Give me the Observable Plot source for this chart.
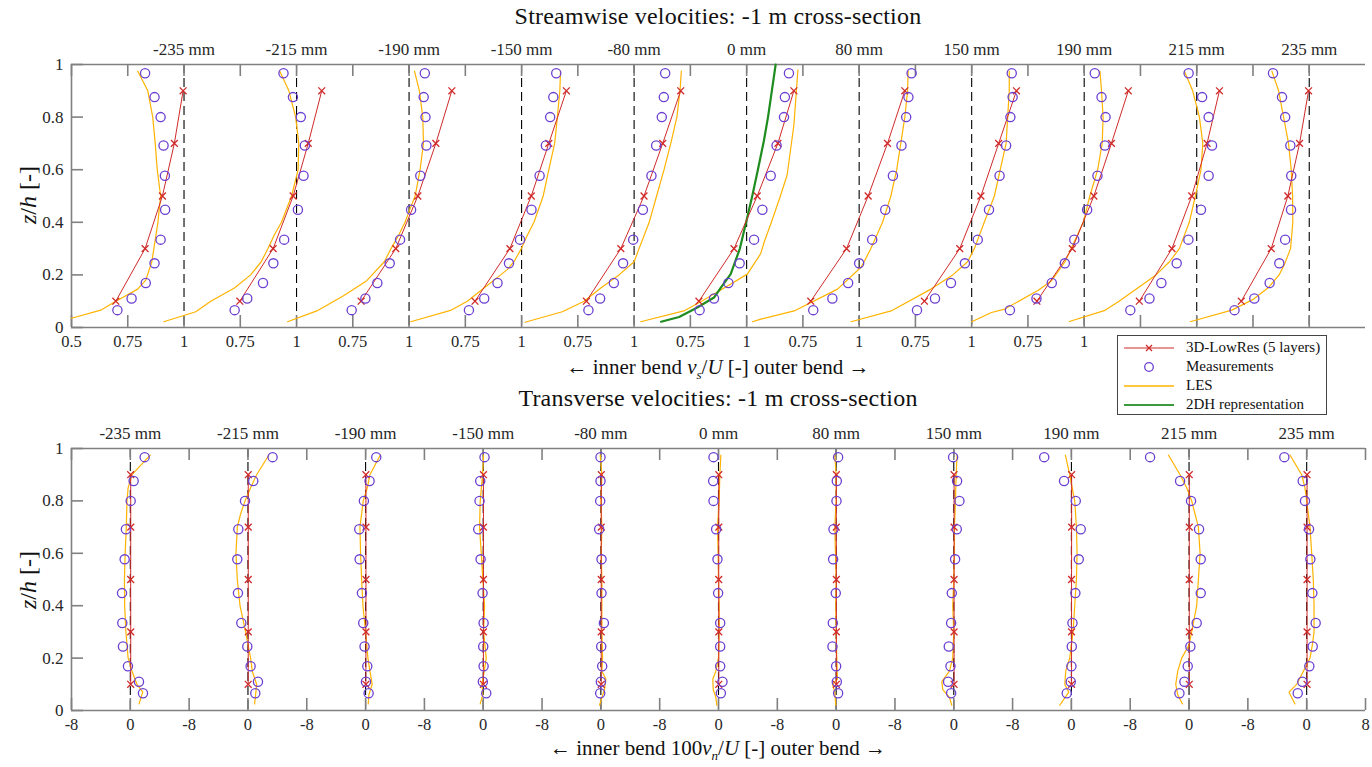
<!DOCTYPE html>
<html><head><meta charset="utf-8">
<script src="https://cdn.jsdelivr.net/npm/d3@7"></script>
<script src="https://cdn.jsdelivr.net/npm/@observablehq/plot@0.6"></script>
<style>
body{margin:0;background:#fff;}
#wrap{position:relative;width:1372px;height:767px;overflow:hidden;font-family:"Liberation Serif",serif;color:#111;}
.ttl{position:absolute;left:0;width:1436px;text-align:center;font-size:24px;letter-spacing:0.2px;white-space:nowrap;}
.xl{position:absolute;left:0;width:1436px;text-align:center;font-size:21px;white-space:nowrap;}
.ylab{position:absolute;font-size:24px;white-space:nowrap;transform:translate(-50%,-50%) rotate(-90deg);}
#legend{position:absolute;left:1117px;top:335px;width:208px;height:78px;background:#fff;border:1px solid #444;font-size:15px;}
#legend .row{position:absolute;left:0;height:19px;line-height:19px;}
#legend svg{position:absolute;left:4px;top:0;}
#legend span{position:absolute;left:68px;white-space:nowrap;}
svg.plot{position:absolute;left:0;}
</style></head>
<body><div id="wrap"></div>
<script>
// ---------- categories / labels ----------
const positions = ["-235 mm","-215 mm","-190 mm","-150 mm","-80 mm","0 mm","80 mm","150 mm","190 mm","215 mm","235 mm"];
// the last four streamwise tick labels are hidden behind the legend in the reference
const topTickLabels = ["0.5","0.75","1","0.75","1","0.75","1","0.75","1","0.75","1","0.75","1","0.75","1","0.75","1","0.75","1","","","",""];
const botTickLabels = ["-8","0","-8","0","-8","0","-8","0","-8","0","-8","0","-8","0","-8","0","-8","0","-8","0","-8","0","8"];
const yTickLabels = ["0","0.2","0.4","0.6","0.8","1"];
const yTicks = [0,0.2,0.4,0.6,0.8,1];

// ---------- vertical levels ----------
const zMeas = [0.066,0.110,0.169,0.244,0.334,0.448,0.577,0.692,0.800,0.876,0.967];
const z3D = [0.1,0.3,0.5,0.7,0.9];

// ---------- streamwise velocities v_s/U (one row per cross-section position) ----------
const measStream = [
  [0.704,0.767,0.830,0.869,0.896,0.916,0.915,0.909,0.896,0.869,0.827],
  [0.725,0.781,0.851,0.897,0.945,1.006,1.031,1.037,1.019,0.984,0.942],
  [0.745,0.806,0.859,0.914,0.960,1.009,1.050,1.077,1.073,1.065,1.070],
  [0.766,0.834,0.893,0.944,0.993,1.044,1.080,1.108,1.127,1.141,1.154],
  [0.797,0.849,0.910,0.951,0.996,1.039,1.077,1.098,1.123,1.132,1.138],
  [0.791,0.855,0.919,0.969,1.033,1.070,1.107,1.133,1.166,1.170,1.188],
  [0.796,0.881,0.951,1.000,1.058,1.116,1.150,1.188,1.209,1.219,1.233],
  [0.757,0.837,0.908,0.970,1.027,1.077,1.124,1.153,1.172,1.182,1.178],
  [0.670,0.788,0.856,0.914,0.956,1.013,1.059,1.092,1.095,1.077,1.047],
  [0.705,0.790,0.843,0.911,0.963,1.019,1.053,1.068,1.053,1.024,0.964],
  [0.668,0.756,0.824,0.867,0.893,0.919,0.920,0.916,0.893,0.879,0.839]
];
const lowresStream = [
  [0.697,0.827,0.904,0.957,0.996],
  [0.748,0.896,0.985,1.052,1.112],
  [0.787,0.941,1.039,1.119,1.190],
  [0.793,0.948,1.043,1.121,1.199],
  [0.788,0.941,1.044,1.127,1.207],
  [0.788,0.944,1.047,1.139,1.210],
  [0.785,0.944,1.040,1.126,1.203],
  [0.790,0.947,1.041,1.120,1.199],
  [0.790,0.947,1.043,1.121,1.196],
  [0.745,0.890,0.978,1.046,1.101],
  [0.698,0.831,0.905,0.957,0.997]
];
// LES profiles: [z/h, v_s/U]
const lesStream = [
  [[0.035,0.50],[0.066,0.63],[0.1,0.697],[0.146,0.794],[0.18,0.83],[0.25,0.857],[0.3,0.866],[0.4,0.884],[0.5,0.896],[0.6,0.881],[0.7,0.872],[0.8,0.861],[0.9,0.839],[0.975,0.794]],
  [[0.022,0.41],[0.06,0.552],[0.1,0.619],[0.15,0.724],[0.2,0.796],[0.25,0.843],[0.3,0.873],[0.35,0.9],[0.4,0.933],[0.5,0.978],[0.6,1.007],[0.7,1.01],[0.8,0.996],[0.9,0.966],[0.975,0.925]],
  [[0.022,0.46],[0.063,0.59],[0.12,0.707],[0.178,0.812],[0.25,0.89],[0.3,0.92],[0.35,0.953],[0.4,0.982],[0.45,1.004],[0.5,1.027],[0.6,1.049],[0.7,1.064],[0.8,1.061],[0.9,1.046],[0.975,1.024]],
  [[0.022,0.507],[0.065,0.684],[0.1,0.759],[0.15,0.833],[0.2,0.907],[0.22,0.936],[0.25,0.966],[0.3,0.999],[0.35,1.025],[0.4,1.055],[0.5,1.096],[0.6,1.121],[0.7,1.147],[0.8,1.159],[0.9,1.17],[0.975,1.173]],
  [[0.02,0.515],[0.06,0.681],[0.1,0.778],[0.15,0.852],[0.2,0.933],[0.25,1.0],[0.3,1.022],[0.4,1.067],[0.5,1.10],[0.6,1.133],[0.7,1.163],[0.8,1.19],[0.9,1.204],[0.975,1.21]],
  [[0.022,0.529],[0.063,0.721],[0.1,0.80],[0.15,0.90],[0.203,1.003],[0.28,1.062],[0.33,1.08],[0.4,1.11],[0.5,1.15],[0.58,1.18],[0.77,1.21],[0.98,1.228]],
  [[0.022,0.526],[0.032,0.563],[0.063,0.711],[0.146,0.904],[0.228,1.007],[0.25,1.022],[0.3,1.052],[0.4,1.104],[0.5,1.141],[0.6,1.167],[0.7,1.185],[0.8,1.203],[0.9,1.215],[0.975,1.218]],
  [[0.022,0.464],[0.063,0.642],[0.146,0.819],[0.2,0.916],[0.25,0.982],[0.3,1.012],[0.4,1.056],[0.5,1.101],[0.6,1.127],[0.7,1.153],[0.8,1.16],[0.9,1.167],[0.975,1.167]],
  [[0.022,0.50],[0.057,0.588],[0.07,0.647],[0.142,0.796],[0.178,0.855],[0.25,0.915],[0.33,0.958],[0.4,0.996],[0.5,1.025],[0.6,1.06],[0.7,1.08],[0.8,1.084],[0.9,1.077],[0.975,1.07]],
  [[0.023,0.434],[0.064,0.589],[0.1,0.655],[0.159,0.752],[0.2,0.819],[0.25,0.879],[0.3,0.923],[0.4,0.967],[0.5,0.994],[0.6,1.019],[0.7,1.027],[0.8,1.012],[0.9,0.982],[0.975,0.945]],
  [[0.022,0.471],[0.066,0.656],[0.108,0.753],[0.152,0.819],[0.2,0.866],[0.24,0.89],[0.3,0.917],[0.4,0.927],[0.5,0.926],[0.6,0.92],[0.7,0.908],[0.8,0.886],[0.9,0.864],[0.975,0.834]]
];
// 2DH representation, only at the 0 mm position: [z/h, v_s/U]
const twoDH = [[0.022,0.62],[0.04,0.70],[0.076,0.781],[0.114,0.855],[0.15,0.884],[0.203,0.929],[0.3,0.97],[0.419,1.003],[0.5,1.025],[0.6,1.05],[0.711,1.077],[0.8,1.095],[0.9,1.112],[1.0,1.129]];
const twoDHIndex = 5;

// ---------- transverse velocities 100 v_n/U ----------
const measTrans = [
  [1.72,1.18,-0.32,-1.0,-1.09,-1.13,-0.77,-0.6,0.05,0.45,1.95],
  [1.0,1.36,0.36,-0.09,-0.9,-1.36,-1.45,-1.31,-0.4,0.72,3.35],
  [0.41,0.05,0.23,-0.14,-0.32,-0.5,-0.81,-0.86,-0.23,0.54,1.45],
  [0.41,-0.05,0.05,0.0,0.05,-0.09,-0.36,-0.68,-0.5,-0.41,0.18],
  [-0.09,0.0,0.18,0.05,0.41,0.09,0.09,-0.23,-0.09,-0.05,-0.05],
  [0.32,0.54,0.23,0.23,0.23,-0.05,-0.14,-0.32,-0.68,-0.72,-0.68],
  [0.27,0.09,0.0,-0.5,-0.45,-0.05,-0.41,-0.36,0.05,0.09,0.27],
  [-0.36,-0.77,-0.45,-0.68,-0.36,-0.27,0.18,0.41,0.77,0.45,-0.09],
  [-0.63,-0.09,0.0,0.05,0.14,0.54,1.0,1.27,0.59,-1.0,-3.7],
  [-1.31,-0.63,-0.18,0.18,1.04,1.59,1.59,1.36,0.27,-1.22,-5.3],
  [-1.22,-0.59,0.36,0.82,1.22,0.77,0.5,0.32,-0.23,-0.54,-3.04]
];
const lowresTrans = [
  [0.05,0.06,0.05,0.06,0.05],
  [0.03,0.04,0.04,0.04,0.04],
  [0.04,0.05,0.05,0.05,0.04],
  [0.02,0.03,0.03,0.03,0.03],
  [0.05,0.05,0.05,0.05,0.06],
  [0.04,0.04,0.03,0.04,0.04],
  [0.03,0.03,0.03,0.02,0.03],
  [0.04,0.04,0.04,0.04,0.04],
  [0.02,0.02,0.02,0.03,0.03],
  [0.03,0.03,0.03,0.03,0.03],
  [0.05,0.05,0.05,0.05,0.05]
];
const lesTrans = [
  [[0.025,1.2],[0.05,1.45],[0.07,1.7],[0.1,0.9],[0.15,0.23],[0.2,-0.3],[0.3,-0.6],[0.4,-0.77],[0.5,-0.8],[0.6,-0.7],[0.7,-0.55],[0.8,-0.45],[0.85,-0.3],[0.9,0.23],[0.975,2.7]],
  [[0.025,0.9],[0.06,1.04],[0.1,1.18],[0.15,0.59],[0.2,0.36],[0.3,-0.32],[0.4,-1.08],[0.5,-1.45],[0.6,-1.63],[0.7,-1.45],[0.75,-1.0],[0.8,-0.4],[0.85,0.36],[0.9,1.18],[0.975,2.85]],
  [[0.025,0.36],[0.06,0.45],[0.1,0.9],[0.15,0.59],[0.2,0.32],[0.3,0.0],[0.4,-0.36],[0.5,-0.54],[0.6,-0.68],[0.7,-0.77],[0.8,-0.32],[0.85,0.23],[0.9,0.59],[0.975,2.0]],
  [[0.025,-0.41],[0.06,-0.05],[0.1,-0.18],[0.15,0.14],[0.2,0.41],[0.3,0.05],[0.4,0.18],[0.5,-0.05],[0.6,-0.27],[0.7,-0.5],[0.8,-0.41],[0.9,-0.09],[0.975,0.05]],
  [[0.02,-0.18],[0.05,0.14],[0.08,0.5],[0.12,0.68],[0.15,0.14],[0.2,0.23],[0.3,0.14],[0.4,0.14],[0.5,0.14],[0.6,0.05],[0.7,0.14],[0.8,0.0],[0.9,0.14],[0.975,-0.09]],
  [[0.02,-0.23],[0.05,-0.36],[0.08,-0.72],[0.12,-0.77],[0.15,-0.36],[0.2,0.0],[0.3,0.09],[0.4,0.09],[0.5,0.0],[0.6,-0.05],[0.7,-0.14],[0.8,0.09],[0.9,0.18],[0.975,0.32]],
  [[0.02,-0.05],[0.07,-0.18],[0.1,-0.5],[0.12,0.18],[0.2,0.09],[0.3,0.0],[0.4,-0.05],[0.5,0.0],[0.6,-0.09],[0.7,-0.18],[0.8,0.0],[0.9,0.0],[0.975,-0.18]],
  [[0.02,-0.27],[0.05,-0.59],[0.08,-1.5],[0.11,-1.63],[0.15,-0.59],[0.2,-0.14],[0.3,0.0],[0.4,-0.14],[0.5,0.0],[0.6,0.09],[0.7,0.09],[0.8,0.23],[0.9,0.32],[0.975,0.45]],
  [[0.02,-1.59],[0.07,-0.36],[0.1,-0.9],[0.15,-0.77],[0.2,-0.23],[0.3,0.23],[0.4,0.45],[0.5,0.68],[0.6,0.77],[0.7,0.68],[0.8,0.45],[0.9,-0.23],[0.975,-0.82]],
  [[0.025,-0.9],[0.06,-1.54],[0.1,-1.81],[0.15,-1.54],[0.2,-1.0],[0.25,0.0],[0.3,0.36],[0.4,1.04],[0.5,1.27],[0.6,1.5],[0.7,1.27],[0.8,0.36],[0.85,-0.32],[0.9,-1.22],[0.975,-2.81]],
  [[0.025,-1.59],[0.07,-2.4],[0.1,-1.36],[0.15,-0.45],[0.2,0.45],[0.25,0.77],[0.3,1.0],[0.4,1.0],[0.5,0.9],[0.6,0.68],[0.7,0.45],[0.8,0.0],[0.85,-0.23],[0.9,-0.68],[0.975,-2.27]]
];

// ---------- styles ----------
const C_RED = "#d02a2a", C_MEAS = "#6a3fd2", C_LES = "#ffb300", C_2DH = "#1e8c1e", C_AX = "#808080", C_TXT = "#262626";
const FONT = "Liberation Serif";

// ---------- helpers: shift each profile by its offset along the shared x scale ----------
function profilesFromArrays(rows, zs, step) {
  return rows.flatMap((vals, i) => vals.map((v, j) => ({p: i, x: v + step * i, z: zs[j]})));
}
function profilesFromPairs(rows, step) {
  return rows.flatMap((pairs, i) => pairs.map(([z, v]) => ({p: i, x: v + step * i, z})));
}

function panel({top, height, mTop, mBottom, domain, step, centerRef, ticks, tickLabels, meas, lowres, les, extra}) {
  const frameH = height - mTop - mBottom;
  const frameW = 1372 - 71 - 7;
  const centers = positions.map((_, i) => centerRef + step * i);
  const tickMap = new Map(ticks.map((t, i) => [t, tickLabels[i]]));
  const posMap = new Map(centers.map((c, i) => [c, positions[i]]));
  const marks = [
    Plot.ruleX(centers, {x: d => d, stroke: "#000", strokeWidth: 1.1, strokeDasharray: "9,5"}),
    Plot.tickX(ticks, {x: d => d, stroke: C_AX, strokeWidth: 1.6, insetBottom: frameH - 12}),
    Plot.tickX(ticks, {x: d => d, stroke: C_AX, strokeWidth: 1.6, insetTop: frameH - 12}),
    Plot.tickY(yTicks, {y: d => d, stroke: C_AX, strokeWidth: 1.6, insetRight: frameW - 12}),
    Plot.ruleY([0, 1], {stroke: C_AX, strokeWidth: 1.6}),
    Plot.ruleX([domain[0]], {stroke: C_AX, strokeWidth: 1.6}),
    Plot.line(les, {x: "x", y: "z", z: "p", stroke: C_LES, strokeWidth: 1.2}),
    ...(extra || []),
    Plot.line(lowres, {x: "x", y: "z", z: "p", stroke: C_RED, strokeWidth: 1}),
    Plot.dot(lowres, {x: "x", y: "z", symbol: "times", r: 3.2, stroke: C_RED, strokeWidth: 1.3}),
    Plot.dot(meas, {x: "x", y: "z", r: 4.6, stroke: C_MEAS, strokeWidth: 1.3, fill: "none"}),
    Plot.axisX(ticks, {anchor: "bottom", tickSize: 0, tickPadding: 8, tickFormat: d => tickMap.get(d), fontSize: 16.5, fill: C_TXT, label: null}),
    Plot.axisX(centers, {anchor: "top", tickSize: 0, tickPadding: 10, tickFormat: d => posMap.get(d), fontSize: 17, fill: C_TXT, label: null}),
    Plot.axisY(yTicks, {anchor: "left", tickSize: 0, tickPadding: 8, tickFormat: (d) => yTickLabels[yTicks.indexOf(d)], fontSize: 17, fill: C_TXT, label: null})
  ];
  const svg = Plot.plot({
    width: 1372, height,
    marginLeft: 71, marginRight: 7, marginTop: mTop, marginBottom: mBottom,
    x: {domain, label: null},
    y: {domain: [0, 1], label: null},
    style: {fontFamily: FONT, background: "transparent", overflow: "visible"},
    marks
  });
  svg.style.top = top + "px";
  return svg;
}

const wrap = document.getElementById("wrap");

// Streamwise panel: profiles spaced by 0.5, reference line at v_s/U = 1
const topTicks = topTickLabels.map((_, k) => 0.5 + 0.25 * k);
wrap.appendChild(panel({
  top: 0, height: 383, mTop: 64, mBottom: 56,
  domain: [0.5, 6.25], step: 0.5, centerRef: 1,
  ticks: topTicks, tickLabels: topTickLabels,
  meas: profilesFromArrays(measStream, zMeas, 0.5),
  lowres: profilesFromArrays(lowresStream, z3D, 0.5),
  les: profilesFromPairs(lesStream, 0.5),
  extra: [Plot.line(twoDH.map(([z, v]) => ({x: v + 0.5 * twoDHIndex, z})), {x: "x", y: "z", stroke: C_2DH, strokeWidth: 2.2})]
}));

// Transverse panel: profiles spaced by 16, reference line at 0
const botTicks = botTickLabels.map((_, k) => -8 + 8 * k);
wrap.appendChild(panel({
  top: 383, height: 384, mTop: 65, mBottom: 57,
  domain: [-8, 168], step: 16, centerRef: 0,
  ticks: botTicks, tickLabels: botTickLabels,
  meas: profilesFromArrays(measTrans, zMeas, 16),
  lowres: profilesFromArrays(lowresTrans, z3D, 16),
  les: profilesFromPairs(lesTrans, 16)
}));

// ---------- texts ----------
function addHTML(html, cls, style) {
  const d = document.createElement("div");
  d.className = cls; d.innerHTML = html; Object.assign(d.style, style);
  wrap.appendChild(d); return d;
}
addHTML("Streamwise velocities: -1 m cross-section", "ttl", {top: "3px"});
addHTML("&larr; inner bend <i>v<sub style='font-size:13px'>s</sub></i>/<i>U</i> [-] outer bend &rarr;", "xl", {top: "355px"});
addHTML("Transverse velocities: -1 m cross-section", "ttl", {top: "385px"});
addHTML("&larr; inner bend 100<i>v<sub style='font-size:13px'>n</sub></i>/<i>U</i> [-] outer bend &rarr;", "xl", {top: "736px"});
addHTML("<i>z</i>/<i>h</i> [-]", "ylab", {left: "28px", top: "195px"});
addHTML("<i>z</i>/<i>h</i> [-]", "ylab", {left: "28px", top: "580px"});

// legend
const legendItems = [
  {label: "3D-LowRes (5 layers)", color: C_RED, line: true, marker: "x"},
  {label: "Measurements", color: C_MEAS, line: false, marker: "o"},
  {label: "LES", color: C_LES, line: true, w: 1.4},
  {label: "2DH representation", color: "#3c9a3c", line: true, w: 2}
];
const leg = document.createElement("div"); leg.id = "legend"; wrap.appendChild(leg);
legendItems.forEach((it, i) => {
  const r = document.createElement("div"); r.className = "row"; r.style.top = (2 + i * 19) + "px"; r.style.width = "208px";
  let s = `<svg width="60" height="19">`;
  if (it.line) s += `<line x1="2" x2="52" y1="10" y2="10" stroke="${it.color}" stroke-width="${it.w || 1.1}"/>`;
  if (it.marker === "x") s += `<path d="M24,7L30,13M30,7L24,13" stroke="${it.color}" stroke-width="1.3"/>`;
  if (it.marker === "o") s += `<circle cx="27" cy="10" r="4.3" fill="none" stroke="${it.color}" stroke-width="1.3"/>`;
  s += `</svg><span>${it.label}</span>`;
  r.innerHTML = s; leg.appendChild(r);
});
</script>
</body></html>
